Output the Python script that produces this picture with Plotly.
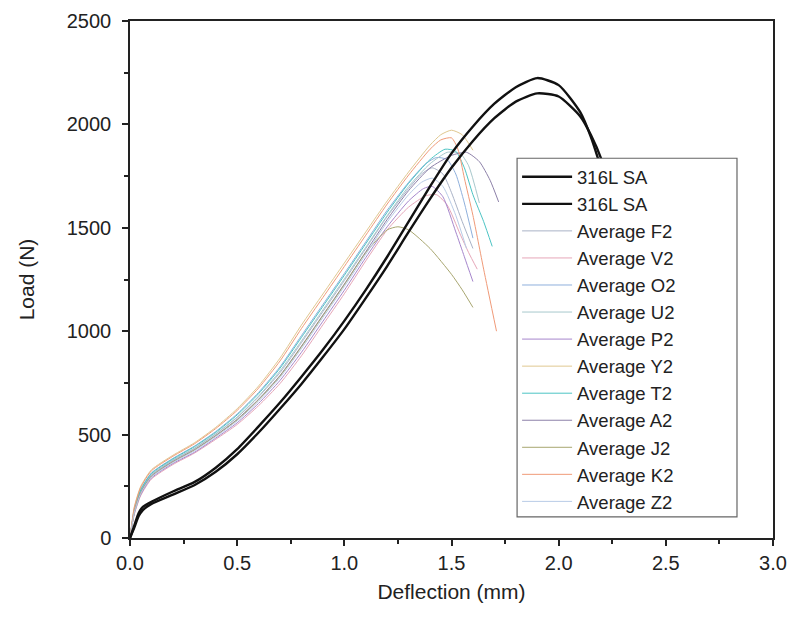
"""
Load vs deflection curves: 316L SA reference and averaged samples.
"""

import plotly.graph_objects as go

# 316L SA reference curves
sa_x = [0, 0.02, 0.04, 0.06, 0.1, 0.2, 0.3, 0.4, 0.5, 0.6, 0.7, 0.8, 0.9, 1.0,
        1.1, 1.2, 1.3, 1.4, 1.5, 1.6, 1.7, 1.8, 1.9, 2.0, 2.1, 2.15, 2.2, 2.25]
sa1_y = [0, 60, 120, 150, 175, 225, 270, 340, 430, 540, 655, 780, 910, 1050,
         1200, 1360, 1530, 1700, 1860, 1990, 2100, 2180, 2224, 2190, 2060, 1940, 1780, 1600]
sa2_y = [0, 50, 105, 135, 165, 210, 255, 320, 405, 510, 625, 745, 875, 1010,
         1160, 1315, 1480, 1640, 1790, 1920, 2030, 2110, 2150, 2135, 2040, 1950, 1830, 1660]

# common rising part of the averaged curves
rise_x = [0, 0.02, 0.05, 0.1, 0.2, 0.3, 0.4, 0.5, 0.6, 0.7, 0.8, 0.9, 1.0, 1.1, 1.2]

f2_x = rise_x + [1.3, 1.36, 1.41, 1.46, 1.5, 1.55, 1.6]
f2_y = [0, 130, 225, 305, 375, 433, 503, 583, 683, 800, 945, 1095, 1245, 1400, 1555,
        1690, 1760, 1790, 1760, 1670, 1530, 1400]

v2_x = rise_x + [1.3, 1.38, 1.43, 1.48, 1.54, 1.58, 1.62]
v2_y = [0, 114, 205, 285, 355, 410, 477, 549, 640, 747, 881, 1031, 1181, 1340, 1490,
        1600, 1655, 1660, 1610, 1470, 1380, 1300]

o2_x = rise_x + [1.3, 1.38, 1.43, 1.48, 1.52, 1.56, 1.6]
o2_y = [0, 138, 235, 315, 385, 444, 515, 600, 704, 828, 979, 1129, 1279, 1432, 1585,
        1720, 1810, 1840, 1830, 1760, 1620, 1450]

u2_x = rise_x + [1.3, 1.4, 1.48, 1.54, 1.58, 1.63]
u2_y = [0, 132, 227, 307, 377, 434, 504, 585, 686, 808, 953, 1103, 1253, 1406, 1559,
        1700, 1810, 1865, 1860, 1800, 1620]

p2_x = rise_x + [1.3, 1.37, 1.41, 1.46, 1.52, 1.56, 1.6]
p2_y = [0, 118, 210, 290, 360, 414, 483, 557, 651, 762, 898, 1048, 1198, 1356, 1505,
        1630, 1690, 1700, 1650, 1480, 1360, 1240]

y2_x = rise_x + [1.3, 1.4, 1.45, 1.5, 1.55, 1.6]
y2_y = [0, 150, 250, 330, 400, 460, 535, 625, 735, 870, 1030, 1180, 1330, 1480, 1630,
        1770, 1900, 1950, 1972, 1950, 1875]

t2_x = rise_x + [1.3, 1.4, 1.47, 1.52, 1.56, 1.6, 1.65, 1.69]
t2_y = [0, 136, 232, 312, 382, 441, 511, 595, 698, 821, 970, 1120, 1270, 1423, 1575,
        1715, 1830, 1880, 1870, 1790, 1660, 1530, 1410]

a2_x = rise_x + [1.3, 1.4, 1.5, 1.57, 1.63, 1.68, 1.72]
a2_y = [0, 126, 220, 300, 370, 427, 496, 574, 671, 786, 928, 1078, 1228, 1384, 1540,
        1680, 1790, 1850, 1865, 1820, 1730, 1625]

j2_x = rise_x + [1.25, 1.3, 1.4, 1.5, 1.55, 1.6]
j2_y = [0, 124, 218, 298, 368, 425, 494, 571, 668, 783, 925, 1075, 1225, 1380, 1490,
        1505, 1490, 1400, 1275, 1200, 1115]

k2_x = rise_x + [1.3, 1.4, 1.45, 1.5, 1.53, 1.56, 1.6, 1.65, 1.71]
k2_y = [0, 146, 245, 325, 395, 455, 529, 617, 725, 856, 1013, 1163, 1313, 1464, 1615,
        1755, 1880, 1925, 1935, 1880, 1740, 1560, 1300, 1000]

z2_x = rise_x + [1.3, 1.36, 1.41, 1.46, 1.52, 1.57]
z2_y = [0, 122, 215, 295, 365, 421, 490, 566, 662, 776, 916, 1066, 1216, 1372, 1528,
        1660, 1720, 1740, 1700, 1560, 1400]

averages = [
    ("Average F2", f2_x, f2_y, "#a9b2c6"),
    ("Average V2", v2_x, v2_y, "#e6a6b8"),
    ("Average O2", o2_x, o2_y, "#8fb0dc"),
    ("Average U2", u2_x, u2_y, "#a8c8cc"),
    ("Average P2", p2_x, p2_y, "#a686cc"),
    ("Average Y2", y2_x, y2_y, "#e0c890"),
    ("Average T2", t2_x, t2_y, "#4cc4c4"),
    ("Average A2", a2_x, a2_y, "#8c80a8"),
    ("Average J2", j2_x, j2_y, "#a8a670"),
    ("Average K2", k2_x, k2_y, "#f09a78"),
    ("Average Z2", z2_x, z2_y, "#b8cbe6"),
]

fig = go.Figure()

for i, (name, xs, ys, color) in enumerate(averages):
    fig.add_trace(go.Scatter(
        x=xs, y=ys, name=name, mode="lines",
        line=dict(color=color, width=1, shape="spline", smoothing=0.6),
        legendrank=10 + i,
    ))

# black reference curves on top
fig.add_trace(go.Scatter(
    x=sa_x, y=sa1_y, name="316L SA", mode="lines",
    line=dict(color="#111111", width=2.4, shape="spline", smoothing=0.6),
    legendrank=1,
))
fig.add_trace(go.Scatter(
    x=sa_x, y=sa2_y, name="316L SA", mode="lines",
    line=dict(color="#111111", width=2.4, shape="spline", smoothing=0.6),
    legendrank=2,
))

axis_common = dict(
    showline=True, linecolor="#222222", linewidth=1.5, mirror=True,
    showgrid=False, zeroline=False, automargin=False,
    ticks="outside", ticklen=6, tickwidth=1.5, tickcolor="#222222",
    tickfont=dict(family="Liberation Sans, Arial", size=20, color="#222222"),
)

fig.update_xaxes(
    range=[0, 3.0], dtick=0.5, tickformat=".1f",
    minor=dict(ticks="outside", ticklen=4, tickwidth=1.5, tickcolor="#222222", dtick=0.25),
    title=dict(text="Deflection (mm)", font=dict(size=21, color="#222222"), standoff=12),
    **axis_common,
)
fig.update_yaxes(
    range=[0, 2500], dtick=500, ticklabelstandoff=7,
    minor=dict(ticks="outside", ticklen=4, tickwidth=1.5, tickcolor="#222222", dtick=250),
    title=dict(text="Load (N)", font=dict(size=21, color="#222222"), standoff=26),
    **axis_common,
)

# legend frame (white box hides the curve tails)
fig.add_shape(
    type="rect", xref="paper", yref="paper",
    x0=0.602, x1=0.944, y0=0.041, y1=0.7345,
    fillcolor="white", line=dict(color="#666666", width=1.2), layer="above",
)

fig.update_layout(
    width=789, height=621,
    margin=dict(l=130, r=16, t=21, b=83),
    template="plotly_white",
    plot_bgcolor="white",
    paper_bgcolor="white",
    font=dict(family="Liberation Sans, Arial", color="#222222"),
    showlegend=True,
    legend=dict(
        x=0.602, y=0.7345, xanchor="left", yanchor="top",
        bgcolor="rgba(0,0,0,0)", borderwidth=0,
        font=dict(size=18.5, color="#222222"),
        tracegroupgap=0, itemwidth=50,
    ),
)

# drop the default page margin so the figure sits at the window corner
fig.write_html(
    "out.html",
    config={"displayModeBar": False},
    post_script="document.body.style.margin='0';",
)
